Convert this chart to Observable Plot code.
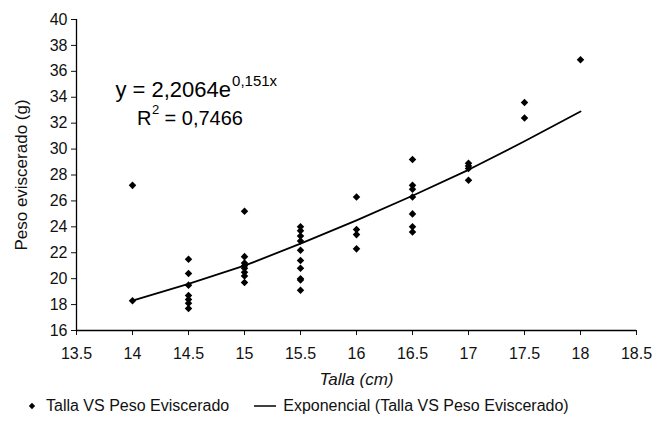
<!DOCTYPE html>
<html>
<head>
<meta charset="utf-8">
<script src="https://cdn.jsdelivr.net/npm/d3@7"></script>
<script src="https://cdn.jsdelivr.net/npm/@observablehq/plot@0.6"></script>
<style>
  body { margin: 0; background: #fff; font-family: "Liberation Sans", Arial, sans-serif; }
  #legend { height: 38px; display: flex; align-items: center; font-size: 16px; color: #111; padding-left: 26px; margin-top: -8px; }
  #legend .item { display: flex; align-items: center; }
  #legend .item2 { margin-left: 24px; }
  #legend svg { margin-right: 8px; }
</style>
</head>
<body>
<div id="chart"></div>
<div id="legend"></div>
<script>
// Observed data: talla (cm) and peso eviscerado (g)
const talla = [
  14, 14,
  14.5, 14.5, 14.5, 14.5, 14.5, 14.5, 14.5,
  15, 15, 15, 15, 15, 15, 15, 15,
  15.5, 15.5, 15.5, 15.5, 15.5, 15.5, 15.5, 15.5, 15.5, 15.5,
  16, 16, 16, 16,
  16.5, 16.5, 16.5, 16.5, 16.5, 16.5, 16.5,
  17, 17, 17, 17,
  17.5, 17.5,
  18
];
const peso = [
  27.2, 18.3,
  21.5, 20.4, 19.5, 18.7, 18.4, 18.1, 17.7,
  25.2, 21.7, 21.2, 21.0, 20.8, 20.5, 20.2, 19.7,
  24.0, 23.7, 23.3, 22.9, 22.2, 21.4, 20.8, 20.0, 19.9, 19.1,
  26.3, 23.8, 23.4, 22.3,
  29.2, 27.2, 26.9, 26.3, 25.0, 24.0, 23.6,
  28.9, 28.7, 28.5, 27.6,
  33.6, 32.4,
  36.9
];
// Exponential trend line
const trendX = [14, 14.5, 15, 15.5, 16, 16.5, 17, 17.5, 18];
const trendY = [18.3, 19.6, 21.0, 22.7, 24.5, 26.4, 28.4, 30.6, 32.9];
// Tick values
const xTicks = [13.5, 14, 14.5, 15, 15.5, 16, 16.5, 17, 17.5, 18, 18.5];
const yTicks = [16, 18, 20, 22, 24, 26, 28, 30, 32, 34, 36, 38, 40];
// Annotation texts
const eqMain = ["y = 2,2064e"];
const eqSup = ["0,151x"];
const r2Main = ["R"];
const r2Sup = ["2"];
const r2Rest = [" = 0,7466"];
const eqAnchor = [{x: 14.88, y: 34.55}];
const r2Anchor = [{x: 14.04, y: 32.35}];
const legendLabels = ["Talla VS Peso Eviscerado", "Exponencial (Talla VS Peso Eviscerado)"];

const points = talla.map((t, i) => ({t, p: peso[i]}));
const trend = trendX.map((t, i) => ({t, p: trendY[i]}));

const chart = Plot.plot({
  width: 664,
  height: 395,
  marginLeft: 76,
  marginRight: 28,
  marginTop: 19,
  marginBottom: 65,
  style: {fontFamily: "Liberation Sans, Arial, sans-serif", fontSize: "16px", color: "#111", background: "#fff"},
  x: {domain: [13.5, 18.5]},
  y: {domain: [16, 40]},
  marks: [
    Plot.axisX({ticks: xTicks, tickFormat: d => String(d), tickSize: 5, tickPadding: 12, fontSize: 16,
      label: "Talla (cm)", labelAnchor: "center", labelOffset: 54, labelArrow: "none"}),
    Plot.axisY({ticks: yTicks, tickFormat: d => String(d), tickSize: 5, tickPadding: 4, fontSize: 16,
      label: "Peso eviscerado (g)", labelAnchor: "center", labelOffset: 62, labelArrow: "none"}),
    Plot.ruleX([13.5], {stroke: "#000", strokeWidth: 1.3}),
    Plot.ruleY([16], {stroke: "#000", strokeWidth: 1.3}),
    Plot.line(trend, {x: "t", y: "p", stroke: "#000", strokeWidth: 1.8}),
    Plot.dot(points, {x: "t", y: "p", symbol: "diamond2", r: 3.4, fill: "#000", stroke: "none"}),
    Plot.text(eqAnchor, {x: "x", y: "y", text: () => eqMain[0], textAnchor: "end", fontSize: 22, fill: "#000"}),
    Plot.text(eqAnchor, {x: "x", y: "y", text: () => eqSup[0], textAnchor: "start", fontSize: 15, dy: -9, dx: 1, fill: "#000"}),
    Plot.text(r2Anchor, {x: "x", y: "y", text: () => r2Main[0], textAnchor: "start", fontSize: 20, fill: "#000"}),
    Plot.text(r2Anchor, {x: "x", y: "y", text: () => r2Sup[0], textAnchor: "start", fontSize: 13, dx: 15, dy: -9, fill: "#000"}),
    Plot.text(r2Anchor, {x: "x", y: "y", text: () => r2Rest[0], textAnchor: "start", fontSize: 20, dx: 22, fill: "#000"})
  ]
});
document.getElementById("chart").appendChild(chart);
d3.select(chart).selectAll("text").filter(function() { return this.textContent === "Talla (cm)"; })
  .attr("font-style", "italic").attr("font-size", 17);
d3.select(chart).selectAll("text").filter(function() { return this.textContent === "Peso eviscerado (g)"; })
  .attr("font-size", 17);

// Legend
const legend = d3.select("#legend");
const it1 = legend.append("div").attr("class", "item");
it1.append("svg").attr("width", 12).attr("height", 12)
  .append("path").attr("d", d3.symbol(d3.symbolSquare, 20)()).attr("transform", "translate(6,6) rotate(45)").attr("fill", "#000");
it1.append("span").text(legendLabels[0]);
const it2 = legend.append("div").attr("class", "item item2");
it2.append("svg").attr("width", 24).attr("height", 12).style("margin-right", "6px")
  .append("line").attr("x1", 1).attr("x2", 23).attr("y1", 6).attr("y2", 6).attr("stroke", "#000").attr("stroke-width", 1.5);
it2.append("span").text(legendLabels[1]);
</script>
</body>
</html>
